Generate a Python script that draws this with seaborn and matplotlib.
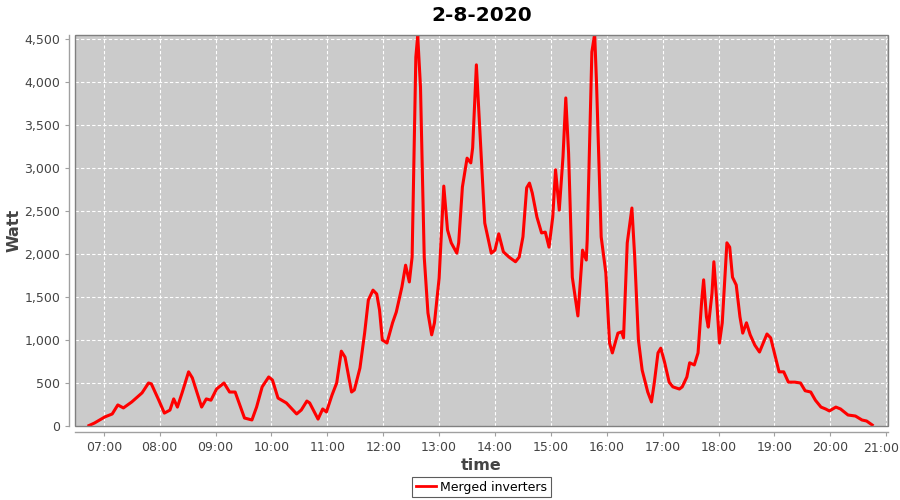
import pandas as pd
import matplotlib
matplotlib.use("Agg")
import matplotlib.pyplot as plt
import matplotlib.dates as mdates
from matplotlib.patches import Rectangle
from matplotlib.ticker import FuncFormatter, MultipleLocator
import seaborn as sns

times = ["06:44", "06:50", "07:01", "07:09", "07:15", "07:21", "07:30", "07:41", "07:48", "07:51",
         "07:59", "08:05", "08:11", "08:15", "08:19", "08:24", "08:31", "08:35", "08:45", "08:50",
         "08:55", "09:01", "09:09", "09:15", "09:21", "09:31", "09:39", "09:44", "09:50", "09:57",
         "10:01", "10:07", "10:16", "10:27", "10:32", "10:38", "10:41", "10:50", "10:55", "10:59",
         "11:05", "11:10", "11:15", "11:19", "11:26", "11:29", "11:35", "11:40", "11:44", "11:49",
         "11:53", "11:56", "11:59", "12:04", "12:10", "12:14", "12:20", "12:24", "12:28", "12:31",
         "12:35", "12:37", "12:40", "12:44", "12:48", "12:52", "12:55", "13:00", "13:05", "13:09",
         "13:13", "13:19", "13:21", "13:25", "13:30", "13:34", "13:36", "13:40", "13:45", "13:49",
         "13:56", "14:00", "14:04", "14:09", "14:15", "14:22", "14:26", "14:30", "14:34", "14:37",
         "14:40", "14:45", "14:50", "14:54", "14:58", "15:02", "15:05", "15:09", "15:13", "15:16",
         "15:19", "15:23", "15:29", "15:34", "15:38", "15:39", "15:44", "15:47", "15:49", "15:54",
         "15:59", "16:03", "16:06", "16:12", "16:16", "16:18", "16:22", "16:27", "16:30", "16:34",
         "16:38", "16:44", "16:48", "16:51", "16:55", "16:58", "17:02", "17:07", "17:11", "17:18",
         "17:21", "17:26", "17:29", "17:34", "17:38", "17:42", "17:44", "17:47", "17:49", "17:53",
         "17:55", "17:58", "18:01", "18:04", "18:09", "18:12", "18:15", "18:19", "18:23", "18:26",
         "18:30", "18:34", "18:39", "18:44", "18:52", "18:56", "19:00", "19:05", "19:10", "19:15",
         "19:22", "19:28", "19:33", "19:39", "19:44", "19:50", "19:55", "19:59", "20:06", "20:11",
         "20:19", "20:27", "20:34", "20:39", "20:45"]

watt = [5, 35, 105, 140, 245, 210, 280, 385, 500, 490,
        300, 150, 185, 315, 220, 385, 630, 560, 220, 315,
        300, 430, 500, 395, 395, 93, 70, 220, 455, 570,
        535, 325, 268, 140, 186, 290, 268, 80, 198, 163,
        360, 500, 870, 800, 395, 420, 675, 1080, 1465, 1580,
        1535, 1350, 1000, 965, 1200, 1325, 1615, 1870, 1675, 1965,
        4290, 4540, 3940, 1965, 1315, 1060, 1200, 1720, 2790, 2280,
        2130, 2010, 2130, 2780, 3115, 3060, 3235, 4200, 3190, 2360,
        2010, 2045, 2235, 2025, 1965, 1910, 1965, 2200, 2770, 2825,
        2710, 2430, 2245, 2255, 2080, 2430, 2980, 2510, 3130, 3815,
        3175, 1730, 1280, 2045, 1930, 2165, 4350, 4560, 3990, 2200,
        1780, 965, 850, 1080, 1095, 1025, 2130, 2535, 1965, 1000,
        650, 395, 280, 500, 850, 905, 745, 510, 455, 430,
        455, 570, 735, 710, 850, 1465, 1700, 1270, 1150, 1545,
        1910, 1465, 965, 1200, 2130, 2080, 1730, 1640, 1270, 1080,
        1200, 1060, 940, 860, 1070, 1025, 850, 630, 630, 510,
        510, 500, 410, 395, 300, 220, 198, 175, 220, 198,
        128, 116, 70, 58, 12]

series_name = "Merged inverters"
day = "2020-08-02"
last_tick = "21:00"

df = pd.DataFrame({
    "time": pd.to_datetime([f"{day} {t}" for t in times]),
    "Watt": watt,
    "series": series_name,
})

fig = plt.figure(figsize=(9, 5), dpi=100)
ax = fig.add_axes([0.0833, 0.148, 0.9034, 0.782])

sns.lineplot(data=df, x="time", y="Watt", hue="series", palette=["#ff0000"],
             linewidth=2.2, ax=ax, legend=True)

ax.set_facecolor("#cbcbcb")
ax.set_xlim(pd.Timestamp(f"{day} 06:29"), pd.Timestamp(f"{day} 21:02"))
ax.set_ylim(0, 4547)


def hour_label(v, pos):
    s = mdates.num2date(v).strftime("%H:%M")
    # the last label sits at the figure edge; it is drawn separately below
    return "" if s == last_tick else s


ax.xaxis.set_major_locator(mdates.HourLocator())
ax.xaxis.set_major_formatter(FuncFormatter(hour_label))
ax.yaxis.set_major_locator(MultipleLocator(500))
ax.yaxis.set_major_formatter(FuncFormatter(lambda v, p: f"{int(v):,}"))

ax.grid(True, color="white", linestyle=(0, (3, 2)), linewidth=0.8)
ax.set_axisbelow(True)

# axis lines sit a few pixels away from the plot outline
ax.spines["top"].set_visible(False)
ax.spines["right"].set_visible(False)
for side in ["left", "bottom"]:
    ax.spines[side].set_position(("outward", 4))
    ax.spines[side].set_color("#a0a0a0")
    ax.spines[side].set_linewidth(1.0)
ax.add_patch(Rectangle((0, 0), 1, 1, transform=ax.transAxes, fill=False,
                       edgecolor="#808080", linewidth=1.0, clip_on=False, zorder=5))

ax.tick_params(axis="both", colors="#a0a0a0", labelcolor="#444444", labelsize=9,
               length=3, direction="out")

ax.annotate(last_tick, xy=(pd.Timestamp(f"{day} {last_tick}"), 0),
            xycoords=("data", "axes fraction"), xytext=(9.5, -11.8),
            textcoords="offset points", ha="right", va="top",
            fontsize=9, color="#444444", annotation_clip=False)

ax.set_title("2-8-2020", fontsize=14.5, fontweight="bold", pad=10)
ax.set_xlabel("time", fontsize=11.5, fontweight="bold", color="#444444", labelpad=3)
ax.set_ylabel("Watt", fontsize=11.5, fontweight="bold", color="#444444", labelpad=2)

leg = ax.legend(loc="upper center", bbox_to_anchor=(0.5, -0.13), frameon=True,
                fancybox=False, fontsize=9, handlelength=1.6, handletextpad=0.3,
                borderpad=0.3, borderaxespad=0)
leg.get_frame().set_edgecolor("#333333")
leg.get_frame().set_linewidth(0.8)
leg.get_lines()[0].set_linewidth(2)

fig.savefig("out.png", dpi=100)
